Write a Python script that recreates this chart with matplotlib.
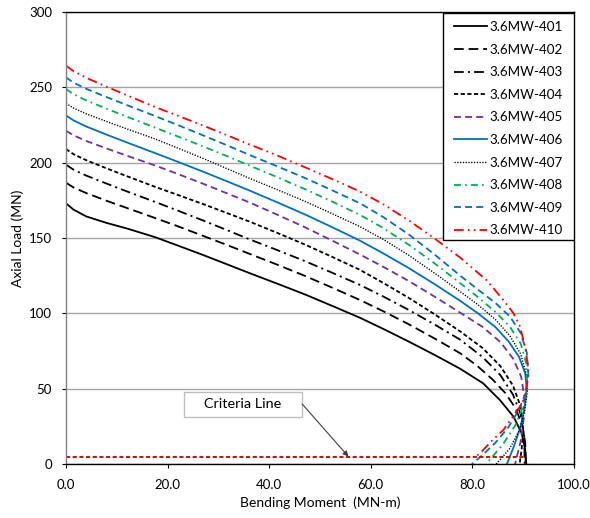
import matplotlib
matplotlib.use("Agg")
import matplotlib.pyplot as plt
from matplotlib.patches import Rectangle

plt.rcParams['font.family'] = ['Lato', 'DejaVu Sans']
plt.rcParams['lines.scale_dashes'] = False

# ---- data ----
m_up = [0, 1.5, 4, 8, 12, 17.5, 22, 27, 31.5, 36.2, 41.5, 47, 52.5, 57.9, 62.5, 67.5, 72.5, 77.6]

m401 = m_up + [82.1, 85.4, 88.1, 89.7, 90.4, 90.6]
p401 = [173, 168.8, 164.3, 160, 156.3, 150.6, 145.0, 138.7, 132.8, 126.6, 119.8, 112.6, 104.8, 97,
        89.6, 81.2, 72.5, 63.2, 53.6, 42.5, 31.4, 20.4, 9.3, 0]

m402 = m_up + [81, 84, 86.5, 88.5, 89.8, 90.4, 90.5]
p402 = [186.7, 183.5, 179.8, 174.7, 169.9, 163.3, 157.8, 151.4, 145.6, 139.4, 132.4, 124.9, 116.9, 108.8,
        101.3, 92.7, 83.4, 73.5, 65, 56, 47, 37, 26, 14, 0]

m403 = m_up + [82, 85.5, 88, 89.5, 90.2, 90.3]
p403 = [198.7, 195.3, 191.4, 186.1, 180.9, 174, 168.2, 161.6, 155.5, 149, 142.1, 134.7, 126.8, 118.8,
        111.1, 102.2, 92.7, 82.5, 71, 59, 46, 33, 18, 0]

m404 = m_up + [82, 85.5, 88, 89.5, 90, 89.7, 89.3]
p404 = [209, 205.6, 201.6, 196.2, 191, 184, 178.6, 172.5, 166.8, 160.8, 153.5, 145.7, 137.3, 128.8,
        120.1, 110.2, 99.5, 88, 77, 65, 52, 38, 22, 10, 0]

m405 = m_up + [82, 85.5, 88, 89.6, 90.2, 90.1, 89.5, 88.4]
p405 = [221.2, 218.1, 214.4, 209.4, 204.6, 198.2, 192.5, 186, 179.9, 173.5, 165.6, 157.2, 148.1, 139,
        130.8, 121.4, 111.2, 100.4, 91, 81, 70, 58, 45, 30, 15, 0]

m406 = m_up + [81.1, 84.5, 87.2, 89.2, 90.4, 90.7, 90.3, 89.5, 88.2, 86.8]
p406 = [231.4, 228, 224, 218.6, 213.4, 206.4, 200.6, 194, 187.9, 181.4, 173.8, 165.7, 157, 148.2,
        139.7, 130, 119.5, 108.3, 100, 91, 81, 71, 60, 50, 38, 25, 12, 0]

m407 = m_up + [81, 84.5, 87.4, 89.5, 90.6, 90.8, 90.3, 89.2, 87.3, 84.7]
p407 = [239.4, 236.2, 232.4, 227.3, 222.4, 215.8, 209.7, 202.8, 196.3, 189.5, 182.2, 174.4, 166, 157.5,
        149, 138.5, 126.8, 114.4, 106, 96, 85, 73, 60, 48, 35, 22, 10, 0]

m408 = m_up + [81, 84.5, 87.4, 89.5, 90.6, 90.8, 90.2, 88.5, 86, 82.7]
p408 = [248.9, 245.4, 241.3, 235.8, 230.5, 223.3, 217.4, 210.8, 204.6, 198, 190.5, 182.5, 174, 165.3,
        156.5, 145.5, 133.3, 120, 111, 101, 91, 80, 67, 53, 40, 26, 13, 0]

m409 = m_up + [81, 84.5, 87.4, 89.5, 90.7, 91, 90.5, 89, 87, 84.5, 82, 79.9]
p409 = [256.6, 253.1, 249, 243.5, 238.2, 231, 225, 218.1, 211.8, 205, 197.7, 189.9, 181.5, 173,
        163.8, 152.3, 139.2, 125, 116, 107, 97.8, 87, 74, 60, 47, 35, 24, 14, 6, 0]

m410 = m_up + [82.8, 86.1, 88.1, 89.4, 90.4, 90.9, 91, 90.5, 89.8, 88.4, 86.1, 84, 81.8, 80.6]
p410 = [264.4, 260.7, 256.3, 250.4, 244.7, 237, 231.2, 224.6, 218.5, 212, 204.9, 197, 189, 180.8,
        172.3, 161.6, 149.8, 137, 122, 108.8, 100, 91.1, 77, 66, 58, 48, 40, 33.6, 22.6, 16, 8.2, 4.6]

criteria_m = [0, 90.5]
criteria_p = [4.6, 4.6]

labels = ["3.6MW-401", "3.6MW-402", "3.6MW-403", "3.6MW-404", "3.6MW-405",
          "3.6MW-406", "3.6MW-407", "3.6MW-408", "3.6MW-409", "3.6MW-410"]
series_m = [m401, m402, m403, m404, m405, m406, m407, m408, m409, m410]
series_p = [p401, p402, p403, p404, p405, p406, p407, p408, p409, p410]

x_ticks = [0, 20, 40, 60, 80, 100]
x_ticklabels = ["0.0", "20.0", "40.0", "60.0", "80.0", "100.0"]
y_ticks = [0, 50, 100, 150, 200, 250, 300]

colors = ["black", "black", "black", "black", "#7030A0",
          "#0070C0", "black", "#00B050", "#0070C0", "#FF0000"]
styles = ["-", (0, (7, 3.5)), (0, (7, 3, 1.5, 3)), (0, (3, 1.8)), (0, (5, 3)),
          "-", (0, (0.9, 1.1)), (0, (5, 3, 1.2, 3)), (0, (5, 3)), (0, (7, 3, 1.2, 3, 1.2, 3))]
widths = [1.3, 1.3, 1.3, 1.3, 1.3, 1.3, 1.0, 1.3, 1.3, 1.3]

fig = plt.figure(figsize=(5.90, 5.18), dpi=100)
ax = fig.add_axes([66/590, 1-464/518, (574-66)/590, (464-12)/518])

for m, p, c, ls, lw, lab in zip(series_m, series_p, colors, styles, widths, labels):
    ax.plot(m, p, color=c, linestyle=ls, linewidth=lw, label=lab)

ax.plot(criteria_m, criteria_p, color="#C00000", linestyle=(0, (3, 1.8)), linewidth=1.3)

ax.set_xlim(0, 100)
ax.set_ylim(0, 300)
ax.set_xticks(x_ticks)
ax.set_xticklabels(x_ticklabels)
ax.set_yticks(y_ticks)
ax.yaxis.grid(True, color="#a6a6a6", linewidth=1.0)
ax.set_axisbelow(True)
ax.tick_params(axis='both', direction='out', length=3, width=0.8, labelsize=9.5,
               colors='black')
ax.tick_params(axis='x', pad=7.5)
ax.tick_params(axis='y', pad=7)
for s in ['top', 'right', 'bottom']:
    ax.spines[s].set_color('black')
    ax.spines[s].set_linewidth(1.0)
ax.spines['left'].set_color('#808080')
ax.spines['left'].set_linewidth(1.0)

ax.set_xlabel("Bending Moment  (MN-m)", fontsize=10)
ax.set_ylabel("Axial Load (MN)", fontsize=10)
ax.xaxis.set_label_coords(0.5, -0.071)
ax.yaxis.set_label_coords(-0.083, 0.5)

# legend: frame drawn separately to match the reference box
ax.add_patch(Rectangle(((443-66)/508, (464-240)/452), (574-443)/508, (240-13)/452,
                       transform=ax.transAxes, facecolor='white', edgecolor='black',
                       linewidth=1.0, zorder=4))
leg = ax.legend(loc='upper right', bbox_to_anchor=(0.977, 0.980), borderaxespad=0,
                frameon=False, fontsize=9.6, borderpad=0,
                handlelength=2.5, handletextpad=0.15, labelspacing=0.795)
leg.set_zorder(5)

# Criteria Line callout
ax.add_patch(Rectangle((23.2, 31.2), 23.3, 16.6, facecolor='white', edgecolor='#bfbfbf',
                       linewidth=1.0, zorder=4))
ax.text(34.85, 39.6, "Criteria Line", fontsize=10.4, ha='center', va='center', zorder=5)
ax.annotate("", xy=(55.6, 4.9), xytext=(46.5, 39.8),
            arrowprops=dict(arrowstyle='-|>', color='#404040', lw=0.8,
                            mutation_scale=8, shrinkA=0, shrinkB=0), zorder=5)

fig.savefig("out.png", dpi=100)
